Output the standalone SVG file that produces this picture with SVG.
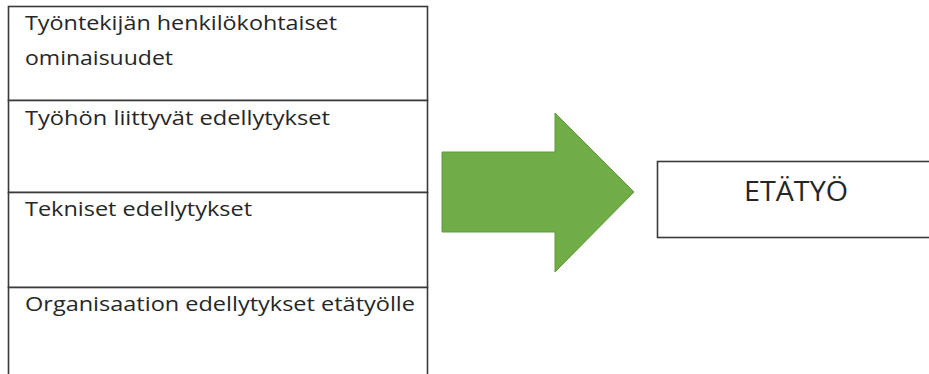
<svg xmlns="http://www.w3.org/2000/svg" width="929" height="374" viewBox="0 0 929 374">
  <style>
    .box { fill: #ffffff; stroke: #3a3a3a; stroke-width: 1.6; }
    .label { font-family: "Open Sans", "Liberation Sans", sans-serif; font-size: 19.5px; fill: #262626; }
    .title { font-family: "Open Sans", "Liberation Sans", sans-serif; font-size: 27px; fill: #262626; }
    .arrow { fill: #70ad47; stroke: #5f9a3b; stroke-width: 1; }
  </style>
  <rect width="929" height="374" fill="#ffffff"/>

  <!-- stacked list of preconditions -->
  <g id="factor-personal">
    <rect class="box" x="8.5" y="6.5" width="419" height="94"/>
    <text class="label" x="25" y="30" textLength="312" lengthAdjust="spacingAndGlyphs">Työntekijän henkilökohtaiset</text>
    <text class="label" x="25" y="65" textLength="148" lengthAdjust="spacingAndGlyphs">ominaisuudet</text>
  </g>
  <g id="factor-work">
    <rect class="box" x="8.5" y="100.5" width="419" height="92"/>
    <text class="label" x="25" y="125" textLength="305" lengthAdjust="spacingAndGlyphs">Työhön liittyvät edellytykset</text>
  </g>
  <g id="factor-technical">
    <rect class="box" x="8.5" y="192.5" width="419" height="95"/>
    <text class="label" x="25" y="216" textLength="227" lengthAdjust="spacingAndGlyphs">Tekniset edellytykset</text>
  </g>
  <g id="factor-organisation">
    <rect class="box" x="8.5" y="287.5" width="419" height="100"/>
    <text class="label" x="25" y="311" textLength="390" lengthAdjust="spacingAndGlyphs">Organisaation edellytykset etätyölle</text>
  </g>

  <!-- block arrow -->
  <g id="connectors">
    <polygon class="arrow" points="442,152 555,152 555,113 634,192 555,272 555,232 442,232"/>
  </g>

  <!-- outcome -->
  <g id="outcome">
    <rect class="box" x="657.5" y="161.5" width="290" height="76"/>
    <text class="title" x="796" y="201" text-anchor="middle" textLength="104" lengthAdjust="spacingAndGlyphs">ETÄTYÖ</text>
  </g>
</svg>
